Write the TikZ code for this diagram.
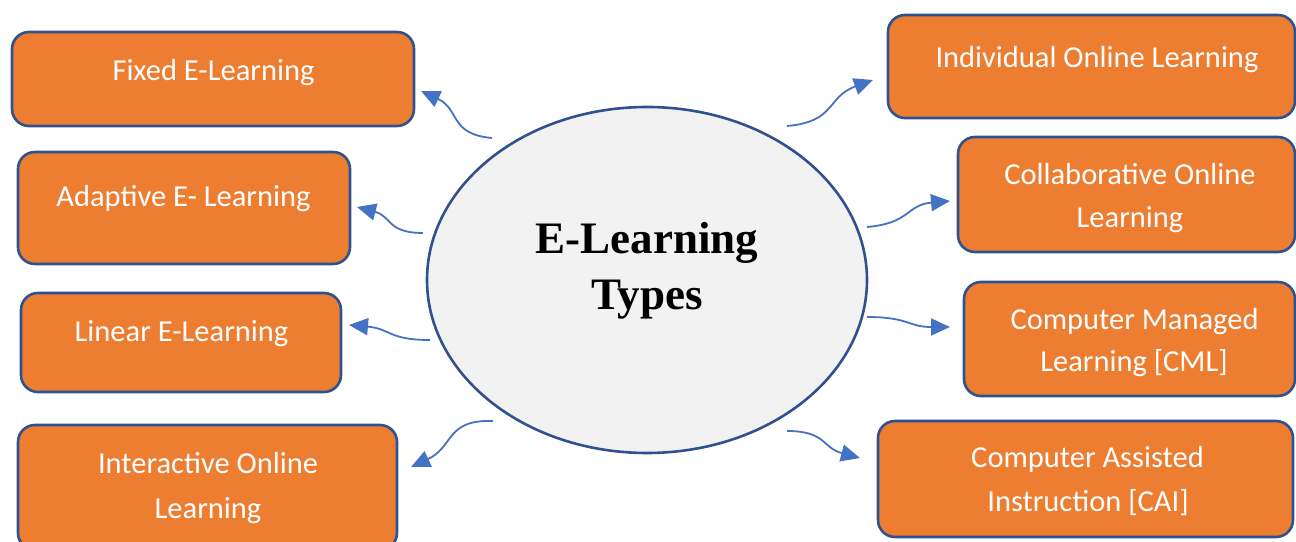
\documentclass[tikz,border=0pt]{standalone}
\usepackage{fontspec}
\setmainfont{Carlito}
\newfontfamily\titlefont{Liberation Serif}
\usetikzlibrary{arrows.meta,shapes.geometric}
\definecolor{boxfill}{HTML}{ED7D31}
\definecolor{boxline}{HTML}{2F528F}
\definecolor{arrowblue}{HTML}{4472C4}
\definecolor{ellfill}{HTML}{F2F2F2}
\tikzset{
  typebox/.style={draw=boxline, line width=2.6pt, fill=boxfill, rounded corners=17pt, inner sep=0pt},
  boxtext/.style={anchor=base, text=white, inner sep=0pt, font=\fontsize{30.5}{43}\selectfont},
  titletext/.style={anchor=base, inner sep=0pt, font=\titlefont\bfseries\fontsize{45}{56}\selectfont},
  link/.style={draw=arrowblue, line width=1.8pt, looseness=1.3, -{Triangle[length=19pt,width=17pt]}},
}
\begin{document}
\begin{tikzpicture}[x=1pt,y=1pt]
\useasboundingbox (0,0) rectangle (1296,541);
\clip (0,0) rectangle (1296,541);
% centre
\node[ellipse, draw=boxline, line width=2.6pt, fill=ellfill, minimum width=440pt, minimum height=346pt] (core) at (647,261) {};
\node[titletext] (t1) at (647,287) {E-Learning};
\node[titletext] (t2) at (647,231) {Types};
% left boxes
\node[typebox, minimum width=402pt, minimum height=94pt] (fixed) at (213,462) {};
\node[boxtext] (fixedt) at (213.5,460) {Fixed E-Learning};
\node[typebox, minimum width=332pt, minimum height=112pt] (adapt) at (184,333) {};
\node[boxtext] (adaptt) at (183.5,334) {Adaptive E- Learning};
\node[typebox, minimum width=320pt, minimum height=99pt] (linear) at (181,198.5) {};
\node[boxtext] (lineart) at (181.5,199) {Linear E-Learning};
\node[typebox, minimum width=379pt, minimum height=125pt] (inter) at (207.5,53.5) {};
\node[boxtext] (intert1) at (208,67) {Interactive Online};
\node[boxtext] (intert2) at (208,23) {Learning};
% right boxes
\node[typebox, minimum width=407pt, minimum height=103pt] (indiv) at (1091.5,474.5) {};
\node[boxtext] (indivt) at (1097,473) {Individual Online Learning};
\node[typebox, minimum width=337pt, minimum height=115pt] (collab) at (1126.5,346.5) {};
\node[boxtext] (collabt1) at (1130,356) {Collaborative Online};
\node[boxtext] (collabt2) at (1130,313) {Learning};
\node[typebox, minimum width=331pt, minimum height=114pt] (cml) at (1129.5,202) {};
\node[boxtext] (cmlt1) at (1134.5,211) {Computer Managed};
\node[boxtext] (cmlt2) at (1134,169) {Learning [CML]};
\node[typebox, minimum width=415pt, minimum height=116pt] (cai) at (1085.5,62) {};
\node[boxtext] (cait1) at (1087.5,73) {Computer Assisted};
\node[boxtext] (cait2) at (1088,30) {Instruction [CAI]};
% connector ends
\coordinate (s1) at (492,403); \coordinate (e1) at (421,450);
\coordinate (s2) at (423,308); \coordinate (e2) at (357,334);
\coordinate (s3) at (430,201); \coordinate (e3) at (349,216);
\coordinate (s4) at (493,120); \coordinate (e4) at (411,74);
\coordinate (s5) at (787,415); \coordinate (e5) at (873,461);
\coordinate (s6) at (867,314); \coordinate (e6) at (950,340);
\coordinate (s7) at (867,224); \coordinate (e7) at (950,214);
\coordinate (s8) at (787,110); \coordinate (e8) at (860,83);
\draw[link] (s1) to[out=175,in=-25] (e1);
\draw[link] (s2) to[out=180,in=-15] (e2);
\draw[link] (s3) to[out=180,in=-5] (e3);
\draw[link] (s4) to[out=178,in=25] (e4);
\draw[link] (s5) to[out=5,in=200] (e5);
\draw[link] (s6) to[out=5,in=185] (e6);
\draw[link] (s7) to[out=0,in=180] (e7);
\draw[link] (s8) to[out=0,in=165] (e8);
\end{tikzpicture}
\end{document}
